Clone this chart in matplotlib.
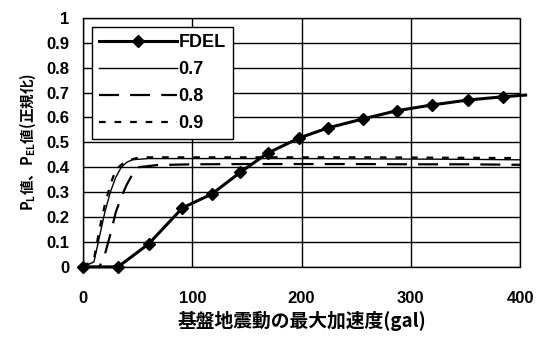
import matplotlib
matplotlib.use("Agg")
import matplotlib.pyplot as plt

plt.rcParams['font.family'] = ['Noto Sans CJK JP', 'DejaVu Sans']
plt.rcParams['font.weight'] = 'bold'

# FDEL curve (diamond markers); the last point only carries the line past the edge
fdel_x = [0, 32, 60, 91, 118, 144, 169, 198, 224, 256, 287, 319, 352, 384, 405]
fdel_y = [0, 0, 0.092, 0.237, 0.293, 0.38, 0.457, 0.518, 0.558, 0.594, 0.627, 0.65, 0.67, 0.683, 0.69]

# threshold curves
thr_x = [0, 10, 15, 20, 25, 30, 35, 40, 45, 50, 60, 70, 80, 100, 150, 200, 250, 300, 350, 400]
y_07 = [0, 0.02, 0.12, 0.22, 0.30, 0.36, 0.40, 0.42, 0.43, 0.432, 0.435, 0.435, 0.435, 0.435,
        0.435, 0.435, 0.434, 0.433, 0.432, 0.43]
y_08 = [0, 0, 0.0, 0.05, 0.13, 0.22, 0.28, 0.33, 0.37, 0.40, 0.405, 0.41, 0.41, 0.412,
        0.413, 0.413, 0.413, 0.412, 0.412, 0.41]
y_09 = [0, 0.03, 0.15, 0.25, 0.33, 0.39, 0.41, 0.425, 0.432, 0.438, 0.44, 0.44, 0.44, 0.44,
        0.44, 0.44, 0.44, 0.439, 0.438, 0.437]

xticks = [0, 100, 200, 300, 400]
yticks = [0, 0.1, 0.2, 0.3, 0.4, 0.5, 0.6, 0.7, 0.8, 0.9, 1]
ytick_labels = ['0', '0.1', '0.2', '0.3', '0.4', '0.5', '0.6', '0.7', '0.8', '0.9', '1']

fig = plt.figure(figsize=(5.39, 3.37), dpi=100)
ax = fig.add_axes([0.154, 0.208, 0.811, 0.739])

ax.plot(fdel_x, fdel_y, color='black', lw=2.2, marker='D', ms=6,
        markevery=list(range(len(fdel_x) - 1)), label='FDEL', zorder=5, clip_on=False)
ax.plot(thr_x, y_07, color='black', lw=1.0, label='0.7', zorder=4)
ax.plot(thr_x, y_08, color='black', lw=1.6, dashes=(9, 5), label='0.8', zorder=4)
ax.plot(thr_x, y_09, color='black', lw=1.6, dashes=(3, 4), label='0.9', zorder=4)

ax.set_xlim(0, 400)
ax.set_ylim(0, 1)
ax.set_xticks(xticks)
ax.set_yticks(yticks)
ax.set_yticklabels(ytick_labels)
ax.grid(True, color='black', lw=1.0)
ax.set_axisbelow(True)
ax.tick_params(length=0)
ax.tick_params(axis='x', pad=17)
ax.tick_params(axis='y', pad=10)
for lab in ax.get_xticklabels() + ax.get_yticklabels():
    lab.set_family(['Liberation Sans', 'DejaVu Sans'])
    lab.set_fontsize(12)
    lab.set_fontweight('bold')
for sp in ax.spines.values():
    sp.set_linestyle((0, (2, 1)))
    sp.set_linewidth(1.0)

ax.set_xlabel('基盤地震動の最大加速度(gal)', fontsize=13.5, fontweight='bold', labelpad=4)
ax.set_ylabel(r'$\mathregular{P_L}$値、$\mathregular{P_{EL}}$値(正規化)', fontsize=10.5,
              fontweight='bold', labelpad=6)

leg = ax.legend(loc='upper left', bbox_to_anchor=(0.0, 1.0), handlelength=4.3,
                handletextpad=0.1, borderpad=0.4, labelspacing=0.55, fancybox=False,
                framealpha=1, edgecolor='black',
                prop={'family': ['Liberation Sans', 'DejaVu Sans'], 'weight': 'bold', 'size': 13})
leg.get_frame().set_linewidth(1.0)
leg.set_zorder(10)

fig.savefig('out.png', dpi=100)
